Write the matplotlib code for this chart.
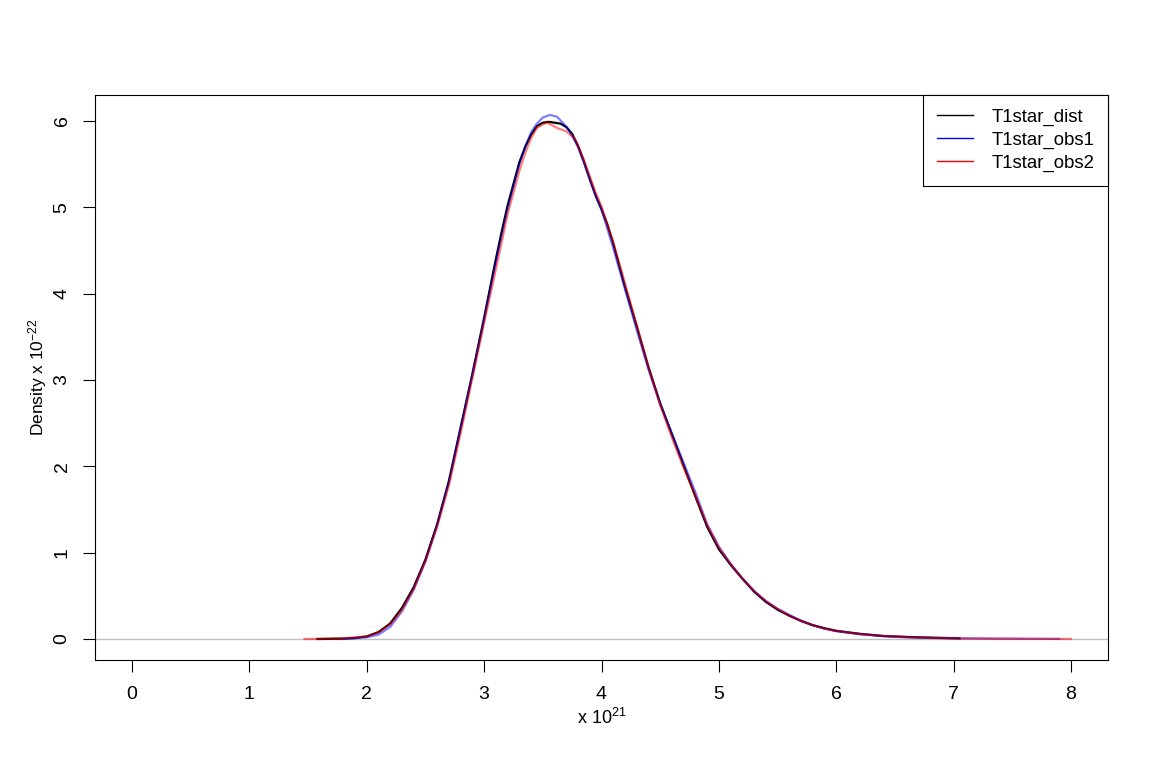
import matplotlib
matplotlib.use("Agg")
import matplotlib.pyplot as plt

plt.rcParams['font.family'] = ['Liberation Sans', 'DejaVu Sans']
plt.rcParams['mathtext.fontset'] = 'custom'
plt.rcParams['mathtext.rm'] = 'Liberation Sans'
plt.rcParams['mathtext.it'] = 'Liberation Sans'

# Data (x in units of 1e21, density in units of 1e-22)
dist_x = [1.58, 1.8, 1.9, 2.0, 2.1, 2.2, 2.3, 2.4, 2.5, 2.6, 2.7, 2.8, 2.9, 3.0, 3.1, 3.15, 3.2, 3.25, 3.3, 3.35,
          3.4, 3.45, 3.5, 3.55, 3.6, 3.65, 3.7, 3.75, 3.8, 3.85, 3.9, 3.95, 4.0, 4.05, 4.1, 4.2, 4.3, 4.4, 4.5, 4.6,
          4.7, 4.8, 4.9, 5.0, 5.1, 5.2, 5.3, 5.4, 5.5, 5.6, 5.7, 5.8, 5.9, 6.0, 6.2, 6.4, 6.6, 6.8, 7.05]
dist_y = [0.0, 0.005, 0.012, 0.03, 0.08, 0.18, 0.36, 0.60, 0.92, 1.33, 1.83, 2.45, 3.07, 3.72, 4.40, 4.72, 5.02, 5.27, 5.52, 5.70,
          5.84, 5.94, 5.98, 5.99, 5.98, 5.97, 5.93, 5.85, 5.71, 5.53, 5.33, 5.14, 4.98, 4.80, 4.58, 4.08, 3.62, 3.15, 2.73, 2.37,
          2.01, 1.65, 1.30, 1.04, 0.86, 0.70, 0.55, 0.43, 0.34, 0.27, 0.21, 0.16, 0.125, 0.095, 0.06, 0.035, 0.024, 0.016, 0.008]

obs1_x = [1.8, 2.0, 2.1, 2.2, 2.3, 2.4, 2.5, 2.6, 2.7, 2.8, 2.9, 3.0, 3.1, 3.2, 3.3, 3.35, 3.4, 3.45, 3.5, 3.56,
          3.62, 3.67, 3.72, 3.8, 3.85, 3.9, 3.95, 4.0, 4.1, 4.2, 4.3, 4.4, 4.5, 4.6, 4.7, 4.8, 4.9, 5.0, 5.1, 5.2,
          5.3, 5.4, 5.5, 5.6, 5.7, 5.8, 5.9, 6.0, 6.2, 6.4, 6.6, 6.8, 7.0, 7.4, 7.9]
obs1_y = [0.0, 0.02, 0.05, 0.14, 0.32, 0.57, 0.90, 1.32, 1.82, 2.44, 3.06, 3.70, 4.36, 4.98, 5.50, 5.70, 5.87, 5.97, 6.04, 6.07,
          6.05, 5.98, 5.90, 5.70, 5.52, 5.32, 5.13, 4.97, 4.53, 4.05, 3.58, 3.12, 2.72, 2.38, 2.04, 1.70, 1.33, 1.07, 0.87, 0.70,
          0.55, 0.44, 0.35, 0.28, 0.21, 0.16, 0.12, 0.09, 0.055, 0.033, 0.02, 0.012, 0.008, 0.004, 0.001]

obs2_x = [1.47, 1.6, 1.8, 2.0, 2.1, 2.2, 2.3, 2.4, 2.5, 2.6, 2.7, 2.8, 2.9, 3.0, 3.1, 3.2, 3.25, 3.3, 3.35, 3.4,
          3.45, 3.5, 3.535, 3.58, 3.62, 3.7, 3.77, 3.8, 3.85, 3.9, 3.95, 4.0, 4.1, 4.2, 4.3, 4.4, 4.5, 4.6, 4.7, 4.8,
          4.9, 5.0, 5.1, 5.2, 5.3, 5.4, 5.5, 5.6, 5.7, 5.8, 5.9, 6.0, 6.2, 6.4, 6.6, 6.8, 7.0, 7.4, 8.0]
obs2_y = [0.0, 0.002, 0.008, 0.03, 0.08, 0.17, 0.34, 0.58, 0.90, 1.30, 1.78, 2.38, 3.02, 3.66, 4.28, 4.92, 5.17, 5.42, 5.63, 5.80,
          5.92, 5.96, 5.98, 5.95, 5.92, 5.88, 5.80, 5.72, 5.55, 5.36, 5.17, 5.01, 4.60, 4.12, 3.64, 3.15, 2.71, 2.33, 1.98, 1.66,
          1.32, 1.06, 0.87, 0.70, 0.56, 0.44, 0.35, 0.27, 0.21, 0.16, 0.12, 0.095, 0.058, 0.036, 0.022, 0.014, 0.009, 0.004, 0.001]

labels = ['T1star_dist', 'T1star_obs1', 'T1star_obs2']
x_ticks = [0, 1, 2, 3, 4, 5, 6, 7, 8]
y_ticks = [0, 1, 2, 3, 4, 5, 6]

fig = plt.figure(figsize=(11.57, 7.78), dpi=100)
ax = fig.add_axes([95/1157, 1-660/778, (1108-95)/1157, (660-95)/778])

ax.axhline(0, color='#BEBEBE', lw=1.0, zorder=1)
ax.plot(dist_x, dist_y, color='black', lw=1.6, zorder=2)
ax.plot(obs1_x, obs1_y, color=(0, 0, 1, 0.5), lw=1.6, zorder=3)
ax.plot(obs2_x, obs2_y, color=(1, 0, 0, 0.5), lw=1.6, zorder=4)

ax.set_xlim(-0.315, 8.315)
ax.set_ylim(-0.243, 6.301)
ax.set_xticks(x_ticks)
ax.set_yticks(y_ticks)
ax.set_xticklabels([str(v) for v in x_ticks])
ax.set_yticklabels([str(v) for v in y_ticks], rotation=90, va='center')
ax.tick_params(axis='both', direction='out', length=8.6, width=0.8, labelsize=14, color='black')
ax.tick_params(axis='x', pad=10)
ax.tick_params(axis='y', pad=9)
for s in ax.spines.values():
    s.set_linewidth(0.8)
    s.set_color('black')

ax.set_xlabel(r'x $10^{21}$', fontsize=13, labelpad=4)
ax.set_ylabel(r'Density x $10^{-22}$', fontsize=12.5, labelpad=3)

handles = [plt.Line2D([], [], color='black', lw=1),
           plt.Line2D([], [], color='blue', lw=1),
           plt.Line2D([], [], color='red', lw=1)]
leg = ax.legend(handles, labels, loc='upper right', borderaxespad=0, fancybox=False,
                edgecolor='black', fontsize=13.4, handlelength=1.9, handletextpad=1.0,
                labelspacing=0.3, borderpad=0.75, framealpha=1)
leg.get_frame().set_linewidth(0.8)

fig.savefig('out.png', dpi=100)
